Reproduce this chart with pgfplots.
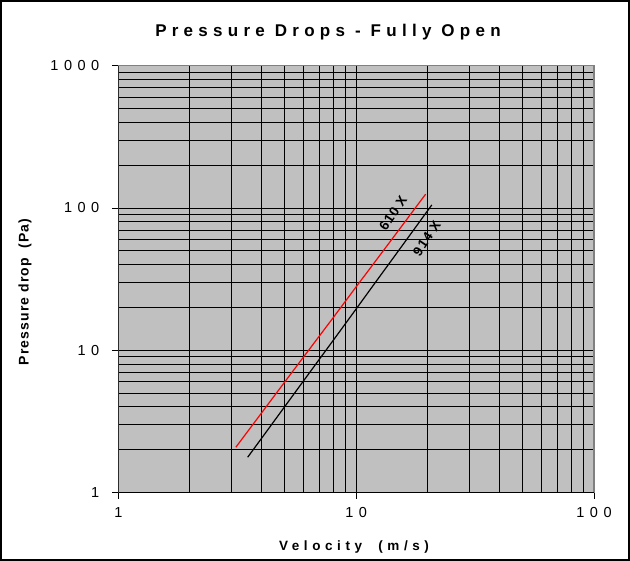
\documentclass[border=0pt]{standalone}
\usepackage{fontspec}
\setmainfont{Liberation Sans}
\usepackage{pgfplots}
\pgfplotsset{compat=1.18}
\definecolor{plotbg}{RGB}{192,192,192}
\definecolor{plotframe}{RGB}{128,128,128}
\begin{document}
\begin{tikzpicture}[x=1pt,y=1pt]
\useasboundingbox (0,0) rectangle (630,561);
\draw[line width=2pt] (1,1) rectangle (629,560);
\node[anchor=base,font=\bfseries\fontsize{17}{19}\selectfont\addfontfeature{LetterSpace=31}] at (328,524.3) {Pressure Drops - Fully Open};
\node[anchor=base,font=\bfseries\fontsize{13.5}{15}\selectfont\addfontfeature{LetterSpace=34}] at (354,10) {Velocity\hspace{1.2em}(m/s)};
\node[anchor=center,rotate=90,font=\bfseries\fontsize{14}{16}\selectfont\addfontfeature{LetterSpace=8}] at (25,269) {Pressure drop\hspace{0.3em} (Pa)};
\begin{axis}[
  at={(118.3pt,68.5pt)}, anchor=south west,
  scale only axis, width=475.7pt, height=426.8pt,
  xmode=log, ymode=log,
  xmin=1, xmax=100, ymin=1, ymax=1000,
  axis background/.style={fill=plotbg},
  xtick={1,10,100}, xticklabels={1,10,100},
  ytick={1,10,100,1000}, yticklabels={1,10,100,1000},
  minor xtick={2,3,4,5,6,7,8,9,20,30,40,50,60,70,80,90},
  minor ytick={2,3,4,5,6,7,8,9,20,30,40,50,60,70,80,90,200,300,400,500,600,700,800,900},
  grid=both,
  major grid style={black,line width=0.9pt},
  minor grid style={black,line width=0.9pt},
  axis line style={plotframe,line width=1.5pt},
  tick align=outside, tick pos=left,
  major tick length=6.5pt, minor tick length=0pt,
  major tick style={black,line width=0.8pt},
  minor tick style={draw=none},
  ticklabel style={font=\fontsize{14.5}{16}\selectfont\addfontfeature{LetterSpace=38}},
  xticklabel style={yshift=-5pt},
  yticklabel style={xshift=-9pt},
]
\addplot[red, line width=1.2pt] coordinates {
 (3.12,2.08) (4,3.62) (5,5.96) (6,8.93) (8,16.9) (10,27.9) (12,41.8) (15,68.8) (19.6,125)
};
\addplot[black, line width=1.2pt] coordinates {
 (3.5,1.77) (4,2.40) (5,4.00) (6,6.07) (8,11.7) (10,19.5) (12,29.7) (15,49.5) (20.8,105)
};
\draw[black,line width=1.2pt] (rel axis cs:0,1) -- (rel axis cs:0,0) -- (rel axis cs:1,0);
\node[rotate=56,inner sep=0pt,font=\bfseries\fontsize{13.5}{15}\selectfont\addfontfeature{LetterSpace=8}] at (axis cs:14.3,92) {610 X};
\node[rotate=56,inner sep=0pt,font=\bfseries\fontsize{13.5}{15}\selectfont\addfontfeature{LetterSpace=8}] at (axis cs:19.8,61) {914 X};
\end{axis}
\end{tikzpicture}
\end{document}
